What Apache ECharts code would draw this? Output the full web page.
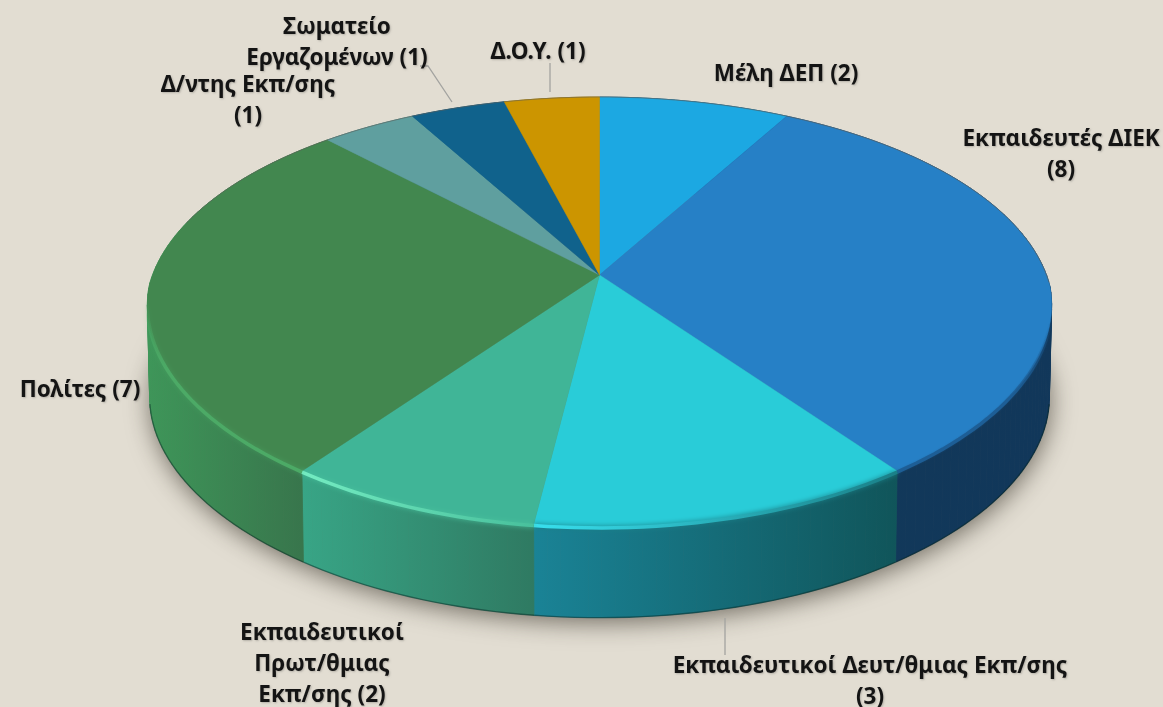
<!DOCTYPE html>
<html><head><meta charset="utf-8">
<style>html,body{margin:0;padding:0;background:#e2ddd2}#c{width:1163px;height:707px}</style>
<script src="https://cdn.jsdelivr.net/npm/echarts@6/dist/echarts.min.js"></script>
</head><body><div id="c"></div>
<script>
const categories=['Μέλη ΔΕΠ','Εκπαιδευτές ΔΙΕΚ','Εκπαιδευτικοί Δευτ/θμιας Εκπ/σης','Εκπαιδευτικοί Πρωτ/θμιας Εκπ/σης','Πολίτες','Δ/ντης Εκπ/σης','Σωματείο Εργαζομένων','Δ.Ο.Υ.'];
const values=[2,8,3,2,7,1,1,1];
const labelTexts=['Μέλη ΔΕΠ (2)','Εκπαιδευτές ΔΙΕΚ\n(8)','Εκπαιδευτικοί Δευτ/θμιας Εκπ/σης\n(3)','Εκπαιδευτικοί\nΠρωτ/θμιας\nΕκπ/σης (2)','Πολίτες (7)','Δ/ντης Εκπ/σης\n(1)','Σωματείο\nΕργαζομένων (1)','Δ.Ο.Υ. (1)'];
const labelCentres=[[786,75],[1061,155],[870,682],[322,665],[80,391],[248,101],[337,43],[538,53]];
const leaderLines=[null,null,[[725,618],[725,655]],null,null,null,[[420,66],[428,66],[452,102]],[[550,63],[550,92]]];
const topColors=['#1ca8e2','#2680c6','#29ccd8','#40b597','#42874f','#5f9f9f','#10628c','#cc9500'];
const wallColors=[['#12395a','#12395a'],['#12395a','#11375a'],['#1a8396','#10555a'],['#38a586','#2f7a62'],['#3e9659','#37704a'],['#4a8080','#4a8080'],['#0d4f72','#0d4f72'],['#a07700','#a07700']];
const rimColors=[null,['#1d5e96','#1d5e96'],['#38e0ee','#1a8088'],['#74ecc2','#48c09c'],['#4caa66','#5fa565'],null,null,null];

const CX=599.5,CY=275,R=447,K=208.6,P=0.172,DEPTH=92,BS=0.995;
const total=values.reduce((a,b)=>a+b,0);
const pt=(deg,bottom)=>{
  const t=deg*Math.PI/180,c=Math.cos(t),f=1/(1+P*c),s=bottom?BS:1;
  const xs=1-0.025*Math.max(0,Math.min(1,(-0.05-c)/0.75));
  return [CX+R*s*xs*Math.sin(t)*f, CY+(bottom?DEPTH:0)-K*s*c*f];
};
const arc=(a,b,bottom)=>{const o=[];const n=Math.max(2,Math.ceil((b-a)/1.5));for(let i=0;i<=n;i++)o.push(pt(a+(b-a)*i/n,bottom));return o;};
const range=i=>{let s=0;for(let j=0;j<i;j++)s+=values[j];return [s/total*360,(s+values[i])/total*360];};
const grad=(x,y,x2,y2,c0,c1)=>new echarts.graphic.LinearGradient(x,y,x2,y2,[{offset:0,color:c0},{offset:1,color:c1}],true);
const data=values.map((v,i)=>({name:categories[i],value:v}));

function renderWall(p,api){
  const i=p.dataIndex,[a,b]=range(i);
  const top=arc(a,b,false),bot=arc(a,b,true);
  const xs=top.concat(bot).map(q=>q[0]),x0=Math.min(...xs),x1=Math.max(...xs);
  const fill=grad(x0,0,x1,0,wallColors[i][0],wallColors[i][1]);
  const kids=[];
  for(let j=0;j<top.length-1;j++){
    kids.push({type:'polygon',shape:{points:[top[j],top[j+1],bot[j+1],bot[j]]},style:{fill,stroke:fill,lineWidth:0.8}});
  }
  const from=Math.max(a,100),to=Math.min(b,260);
  if(to>from)kids.push({type:'polyline',shape:{points:arc(from,to,true)},style:{fill:null,stroke:'rgba(0,35,30,0.45)',lineWidth:1.4}});
  return {type:'group',children:kids};
}
function renderTop(p,api){
  const i=p.dataIndex,[a,b]=range(i);
  return {type:'polygon',shape:{points:[[CX,CY]].concat(arc(a,b,false))},
    style:{fill:topColors[i],stroke:topColors[i],lineWidth:0.5}};
}
function renderRim(p,api){
  const i=p.dataIndex,[a,b]=range(i);
  const kids=[];
  if(a<100||b>290){
    const s=a>=290||b<=90?arc(a,b,false):(i===1?arc(a,92,false):arc(285,b,false));
    kids.push({type:'polyline',shape:{points:s},style:{fill:null,stroke:'rgba(95,95,90,0.55)',lineWidth:1}});
  }
  if(rimColors[i]){
    const c=rimColors[i];
    const from=i===1?98:a,to=i===4?288:b;
    const pts=arc(from,to,false);
    const xs=pts.map(q=>q[0]),x0=Math.min(...xs),x1=Math.max(...xs);
    const stroke=i===4?grad(0,300,0,370,'rgba(76,170,102,0)',c[0])
      :i===1?grad(0,320,0,400,'rgba(29,94,150,0)',c[0])
      :grad(x0,0,x1,0,c[0],c[1]);
    kids.push({type:'polyline',shape:{points:pts.map(q=>[q[0],q[1]+1])},
      style:{fill:null,stroke,lineWidth:3.5,shadowBlur:i===1?2:5,shadowColor:i===4?'rgba(76,170,102,0.5)':i===1?'rgba(29,94,150,0.4)':c[1]}});
  }
  return {type:'group',children:kids};
}
function renderLabel(p,api){
  const i=p.dataIndex,[x,y]=labelCentres[i],kids=[];
  if(leaderLines[i])kids.push({type:'polyline',shape:{points:leaderLines[i]},style:{fill:null,stroke:'#a3a3a0',lineWidth:1.3}});
  kids.push({type:'text',style:{text:labelTexts[i],x,y,align:'center',verticalAlign:'middle',
    fontFamily:'"Noto Sans"',fontWeight:700,fontSize:22.5,lineHeight:31,fill:'#141414',
    textShadowColor:'rgba(0,0,0,0.2)',textShadowBlur:2,textShadowOffsetX:1,textShadowOffsetY:1}});
  return {type:'group',children:kids};
}
function renderShadow(p,api){
  if(p.dataIndex!==0)return null;
  return {type:'polygon',shape:{points:arc(0,360,true)},
    style:{fill:'#6b675e',shadowBlur:24,shadowColor:'rgba(40,35,25,0.6)',shadowOffsetY:5,shadowOffsetX:1}};
}
const mk=(fn,z)=>({type:'custom',coordinateSystem:'none',renderItem:fn,data,z,silent:true,animation:false,clip:false});
const chart=echarts.init(document.getElementById('c'),null,{renderer:'canvas'});
chart.setOption({backgroundColor:'#e2ddd2',animation:false,tooltip:{show:false},
  series:[mk(renderShadow,1),mk(renderWall,2),mk(renderTop,3),mk(renderRim,4),mk(renderLabel,5)]});
</script></body></html>
